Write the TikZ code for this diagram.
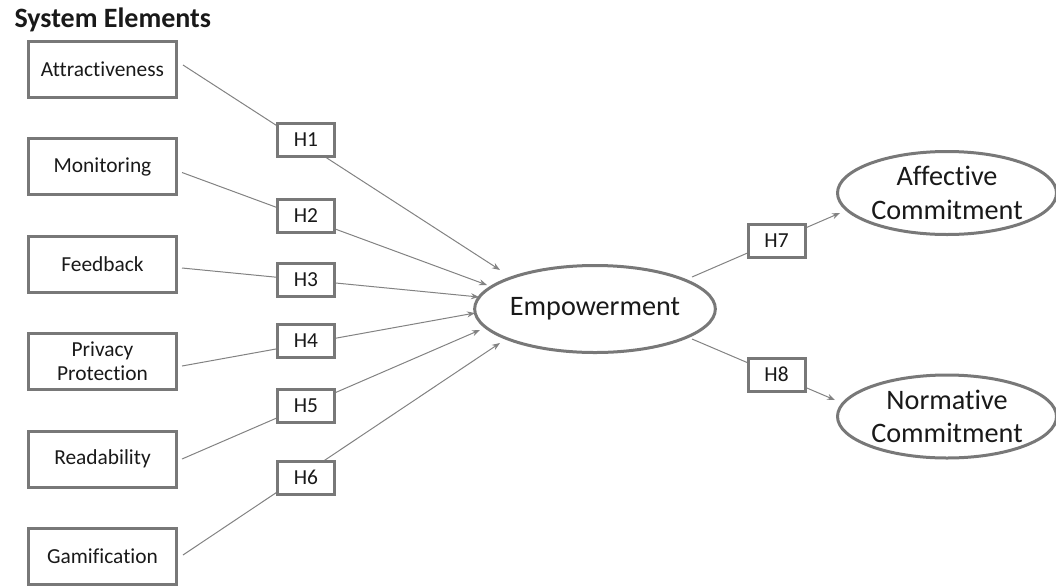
\documentclass[tikz,border=0pt]{standalone}
\usepackage{fontspec}
\setmainfont{Carlito}[Ligatures=NoCommon]
\usetikzlibrary{shapes.geometric,arrows.meta,backgrounds,calc}
\definecolor{bordergray}{RGB}{120,120,120}
\definecolor{linegray}{RGB}{130,130,130}
\definecolor{txt}{RGB}{25,25,25}
\tikzset{
  src/.style={draw=bordergray, line width=3pt, minimum width=148pt, minimum height=56pt,
    align=center, inner sep=0pt, text=txt, font=\fontsize{21.4}{24}\selectfont},
  hyp/.style={draw=bordergray, line width=3pt, fill=white, minimum width=57pt, minimum height=33pt,
    inner sep=0pt, text=txt, font=\fontsize{21.4}{24}\selectfont},
  construct/.style={ellipse, draw=bordergray, line width=3pt, fill=white, align=center,
    inner sep=0pt, text=txt, font=\fontsize{28.2}{33.6}\selectfont},
  link/.style={draw=linegray, line width=1pt},
  arr/.style={link, -{Stealth[length=8pt,width=6pt]}}
}
\begin{document}
\begin{tikzpicture}[x=1pt,y=-1pt]
\useasboundingbox (0,0) rectangle (1056,587);
\node[anchor=base west, text=txt, font=\fontsize{28}{32}\selectfont\bfseries] (title) at (11,27) {System Elements};

% source constructs
\node[src] (attr) at (102.5,69) {Attractiveness};
\node[src] (mon)  at (102.5,166.5) {Monitoring};
\node[src] (feed) at (102.5,264) {Feedback};
\node[src] (priv) at (102.5,361.5) {Privacy\\Protection};
\node[src] (read) at (102.5,459) {Readability};
\node[src] (gam)  at (102.5,556.5) {Gamification};

% hypotheses
\node[hyp] (h1) at (306,140) {H1};
\node[hyp] (h2) at (306,215.5) {H2};
\node[hyp] (h3) at (306,280) {H3};
\node[hyp] (h4) at (306,340.5) {H4};
\node[hyp] (h5) at (306,406) {H5};
\node[hyp] (h6) at (306,477.5) {H6};
\node[hyp] (h7) at (776.5,241) {H7};
\node[hyp] (h8) at (776.5,374.5) {H8};

% latent constructs
\node[construct, minimum width=226pt, minimum height=87pt] (emp) at (595,309) {Empowerment};
\node[construct, minimum width=219pt, minimum height=83pt] (aff) at (947,193) {Affective\\Commitment};
\node[construct, minimum width=219pt, minimum height=83pt] (norm) at (947,416.5) {Normative\\Commitment};

% arrow tips
\coordinate (t1) at ($(emp.center)+(-95,-39)$);
\coordinate (t2) at ($(emp.center)+(-108,-24)$);
\coordinate (t3) at ($(emp.center)+(-116,-12)$);
\coordinate (t4) at ($(emp.center)+(-120,4)$);
\coordinate (t5) at ($(emp.center)+(-115,21)$);
\coordinate (t6) at ($(emp.center)+(-95,34)$);
\coordinate (t7) at ($(aff.center)+(-107,20)$);
\coordinate (t8) at ($(norm.center)+(-112,-16.5)$);

\begin{pgfonlayer}{background}
\draw[arr] ($(attr.east)+(5,-4)$) -- (t1);
\draw[arr] ($(mon.east)+(4,6)$) -- (t2);
\draw[arr] ($(feed.east)+(4,4)$) -- (t3);
\draw[arr] ($(priv.east)+(4,4.5)$) -- (t4);
\draw[arr] ($(read.east)+(4,0)$) -- (t5);
\draw[arr] ($(gam.east)+(5,-1.5)$) -- (t6);
\draw[arr] ($(emp.center)+(97,-32)$) -- (t7);
\draw[arr] ($(emp.center)+(97,30)$) -- (t8);
\end{pgfonlayer}
\end{tikzpicture}
\end{document}
